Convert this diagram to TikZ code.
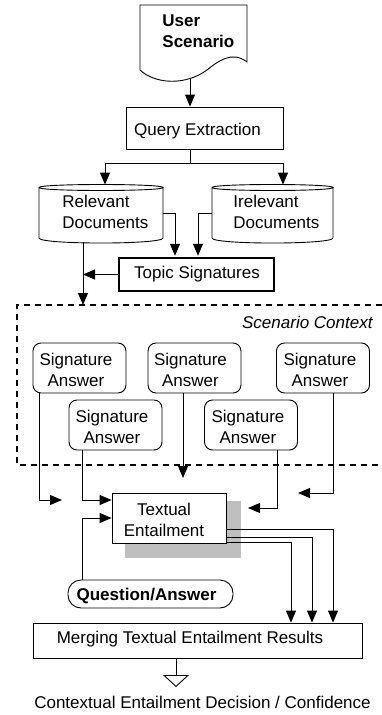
\documentclass[tikz,border=0pt]{standalone}
\usepackage{fontspec}
\setmainfont{Liberation Sans}
\usetikzlibrary{arrows.meta,calc}
\begin{document}
\begin{tikzpicture}[x=1pt,y=-1pt,
  line width=0.9pt,
  arr/.style={-{Triangle[length=12pt,width=10pt]}},
  box/.style={draw, rectangle, inner sep=0pt, fill=white},
  rbox/.style={draw, rectangle, rounded corners=8pt, inner sep=0pt, minimum width=93pt, minimum height=50pt},
  ghost/.style={rectangle, inner sep=0pt},
  txt/.style={inner sep=0pt, font={\fontsize{17}{21}\selectfont}},
  ctxline/.style={line width=2.5pt, dash pattern=on 6pt off 5pt},
]
\useasboundingbox (0,0) rectangle (382,715);

% ---- User scenario document
\draw (140,5) -- (247,5) -- (247,62) .. controls (232,50) and (217,62) .. (207,70)
      .. controls (185,86) and (155,84) .. (140,70) -- cycle;
\node[txt, align=left, anchor=north west] (docT) at (162,14.4) {\bfseries User\\\bfseries Scenario};
\coordinate (docb) at (190,78.7);

% ---- Query extraction
\node[box, minimum width=157pt, minimum height=42pt] (query) at (204.5,128) {};
\node[txt, anchor=base] (queryT) at (197.5,135) {Query Extraction};

% ---- Cylinders
\node[ghost, minimum width=124pt, minimum height=59pt] (rel) at (101,213.5) {};
\draw (39,187.5) .. controls (39,183.5) and (163,183.5) .. (163,187.5)
      .. controls (163,191.5) and (39,191.5) .. (39,187.5) -- (39,238)
      .. controls (39,244.7) and (163,244.7) .. (163,238) -- (163,187.5);
\node[txt, align=left, anchor=north west] (relT) at (62,194.3) {Relevant\\Documents};

\node[ghost, minimum width=121pt, minimum height=59pt] (irr) at (272.5,213.5) {};
\draw (212,187.5) .. controls (212,183.5) and (333,183.5) .. (333,187.5)
      .. controls (333,191.5) and (212,191.5) .. (212,187.5) -- (212,238)
      .. controls (212,244.7) and (333,244.7) .. (333,238) -- (333,187.5);
\node[txt, align=left, anchor=north west] (irrT) at (233,194.3) {Irelevant\\Documents};

% ---- Topic signatures
\node[box, line width=2.5pt, minimum width=155pt, minimum height=33pt] (topic) at (196.5,274.5) {};
\node[txt, anchor=base] (topicT) at (197,278) {Topic Signatures};

% ---- Scenario context region
\coordinate (ctxNW) at (17,305);
\coordinate (ctxSW) at (17,465);
\draw[ctxline] (382,305) -- (ctxNW) -- (ctxSW) -- (382,465);
\node[txt, anchor=base east] (ctxT) at (373,328) {\itshape Scenario Context};

\node[rbox] (s1) at (79.5,368) {};
\node[rbox] (s2) at (115.5,425) {};
\node[rbox] (s3) at (194.5,368) {};
\node[rbox] (s4) at (251,425) {};
\node[rbox] (s5) at (323,368) {};
\node[txt, align=center, anchor=north] (s1T) at (76,353.1) {Signature\\Answer};
\node[txt, align=center, anchor=north] (s2T) at (112,409.6) {Signature\\Answer};
\node[txt, align=center, anchor=north] (s3T) at (190.5,353.1) {Signature\\Answer};
\node[txt, align=center, anchor=north] (s4T) at (248,409.6) {Signature\\Answer};
\node[txt, align=center, anchor=north] (s5T) at (320,353.1) {Signature\\Answer};

% ---- Textual entailment
\fill[gray!50] (125,501) rectangle (241,558);
\node[box, minimum width=114pt, minimum height=50pt] (te) at (169,518) {};
\node[txt, align=center, anchor=north] (teT) at (164,502.8) {Textual\\Entailment};

% ---- Question / Answer
\node[draw, rectangle, rounded corners=13pt, inner sep=0pt, minimum width=165pt, minimum height=28pt] (qa) at (150.5,594) {};
\node[txt, anchor=base] (qaT) at (146.5,600) {\bfseries Question/Answer};

% ---- Merging
\node[box, minimum width=329pt, minimum height=35pt] (merge) at (197.5,640.5) {};
\node[txt, anchor=base] (mergeT) at (190,643) {Merging Textual Entailment Results};

\coordinate (outtip) at (176,687);
\node[txt, anchor=base] (outT) at (202.5,708) {Contextual Entailment Decision / Confidence};

% ---- free-end coordinates
\coordinate (split) at (190,163);
\coordinate (relout) at (83,243);
\coordinate (g1) at (62,500);
\coordinate (i1) at (183,478);
\coordinate (j1) at (248,508);
\coordinate (k1) at (298,493);

% ---- connectors
\draw[arr] (docb) -- (docb |- query.north);
\draw (query.south -| docb) -- (split);
\draw[arr] (split) -| ($(rel.north)+(4,1)$);
\draw[arr] (split) -| ($(irr.north)+(10.5,1)$);
\draw[arr] (rel.east) -| ($(topic.north)+(-21.5,-1)$);
\draw[arr] (irr.west) -| ($(topic.north)+(1.5,-1)$);
\draw[arr] ($(relout)+(0,-1)$) -- (relout |- ctxNW);
\draw[arr] (topic.west) -- (topic.west -| relout);

\draw[arr] ($(s1.south west)+(7,0)$) |- (g1);
\draw[arr] ($(s2.south west)+(14,0)$) |- ($(te.west)+(0,-18)$);
\draw[arr] ($(s3.south)+(-11.5,0)$) -- (i1);
\draw[arr] ($(s4.south)+(26,0)$) |- (j1);
\draw[arr] ($(s5.south)+(10,0)$) |- (k1);
\draw[arr] ($(qa.north west)+(15,0)$) |- (te.west);

\draw[arr] ($(te.east)+(0,11)$) -| ($(merge.north)+(135.5,0)$);
\draw[arr] ($(te.east)+(0,19)$) -| ($(merge.north)+(114.5,0)$);
\draw[arr] ($(te.east)+(0,24)$) -| ($(merge.north)+(93.5,0)$);
\draw[-{Triangle[open,length=12pt,width=26pt]}] (merge.south -| outtip) -- (outtip);
\end{tikzpicture}
\end{document}
